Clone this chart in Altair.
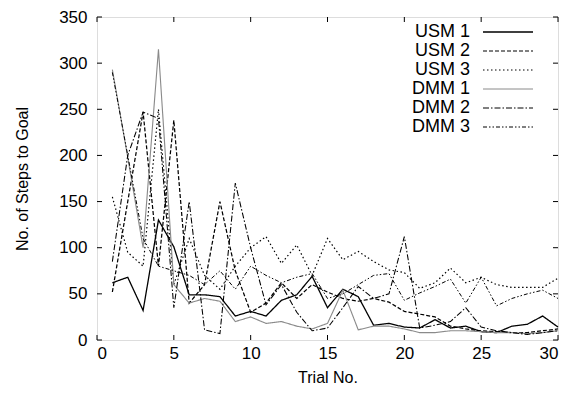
import altair as alt
import pandas as pd

trials = list(range(1, 31))
series_names = ["USM 1", "USM 2", "USM 3", "DMM 1", "DMM 2", "DMM 3"]

usm1 = [62, 68, 32, 130, 101, 49, 49, 47, 26, 31, 26, 43, 49, 69, 35, 55, 47, 16, 18, 14, 13, 22, 13, 15, 9, 8, 15, 17, 26, 14]
usm2 = [52, 150, 247, 80, 238, 40, 60, 150, 75, 30, 40, 62, 45, 60, 52, 45, 42, 45, 41, 31, 28, 25, 15, 12, 10, 9, 8, 8, 10, 12]
usm3 = [155, 95, 80, 250, 60, 110, 70, 55, 80, 100, 112, 83, 103, 70, 110, 87, 96, 85, 76, 73, 56, 62, 78, 62, 68, 60, 57, 57, 57, 67]
dmm1 = [293, 198, 100, 315, 60, 40, 45, 42, 20, 25, 18, 20, 15, 12, 18, 54, 11, 15, 15, 12, 8, 8, 10, 10, 9, 8, 8, 7, 8, 10]
dmm2 = [85, 200, 247, 240, 35, 150, 11, 7, 170, 100, 38, 60, 30, 10, 13, 35, 58, 45, 50, 112, 13, 16, 20, 35, 14, 10, 8, 6, 8, 10]
dmm3 = [290, 200, 110, 80, 75, 70, 60, 75, 55, 80, 70, 62, 68, 72, 45, 50, 60, 70, 72, 43, 51, 58, 66, 40, 68, 37, 45, 50, 54, 45]

y_ticks = [0, 50, 100, 150, 200, 250, 300, 350]
x_ticks = [0, 5, 10, 15, 20, 25, 30]

colors = ["#000000", "#000000", "#000000", "#8a8a8a", "#000000", "#000000"]
dashes = [[1, 0], [4, 2], [1.5, 2.5], [1, 0], [6, 2, 1.5, 2], [4, 2, 1.5, 2, 1.5, 2]]
widths = [1.3, 1, 1, 1, 1, 1]

all_vals = [usm1, usm2, usm3, dmm1, dmm2, dmm3]
rows = []
for name, vals in zip(series_names, all_vals):
    for t, v in zip(trials, vals):
        rows.append({"trial": t, "value": v, "series": name})
df = pd.DataFrame(rows)

W, H = 461, 323
FONT = "Liberation Sans"

xscale = alt.Scale(domain=[0, 30], nice=False)
yscale = alt.Scale(domain=[0, 350], nice=False)

xaxis = alt.Axis(values=x_ticks, title="Trial No.", tickSize=0, domain=False, grid=False,
                 labelPadding=5, titlePadding=8, labelFontSize=17, titleFontSize=16,
                 titleFontWeight="normal", labelColor="#000", titleColor="#000",
                 labelFont=FONT, titleFont=FONT)
yaxis = alt.Axis(values=y_ticks, title="No. of Steps to Goal", tickSize=0, domain=False, grid=False,
                 labelPadding=10, titlePadding=28, labelFontSize=17, titleFontSize=16,
                 titleFontWeight="normal", labelColor="#000", titleColor="#000",
                 labelFont=FONT, titleFont=FONT)

lines = alt.Chart(df).mark_line().encode(
    x=alt.X("trial:Q", scale=xscale, axis=xaxis),
    y=alt.Y("value:Q", scale=yscale, axis=yaxis),
    color=alt.Color("series:N", scale=alt.Scale(domain=series_names, range=colors), legend=None),
    strokeDash=alt.StrokeDash("series:N", scale=alt.Scale(domain=series_names, range=dashes), legend=None),
    strokeWidth=alt.StrokeWidth("series:N", scale=alt.Scale(domain=series_names, range=widths), legend=None),
)

ydf = pd.DataFrame({"value": y_ticks})
xdf = pd.DataFrame({"trial": x_ticks})
tl = 5
yt_left = alt.Chart(ydf).mark_rule(color="black").encode(
    y=alt.Y("value:Q", scale=yscale, axis=yaxis), x=alt.value(0), x2=alt.value(tl))
yt_right = alt.Chart(ydf).mark_rule(color="black").encode(
    y=alt.Y("value:Q", scale=yscale, axis=yaxis), x=alt.value(W - tl), x2=alt.value(W))
xt_bot = alt.Chart(xdf).mark_rule(color="black").encode(
    x=alt.X("trial:Q", scale=xscale, axis=xaxis), y=alt.value(H), y2=alt.value(H - tl))
xt_top = alt.Chart(xdf).mark_rule(color="black").encode(
    x=alt.X("trial:Q", scale=xscale, axis=xaxis), y=alt.value(0), y2=alt.value(tl))

legend_layers = []
for i, name in enumerate(series_names):
    ypos = 15 + 19 * i
    ldf = pd.DataFrame({"label": [name]})
    legend_layers.append(
        alt.Chart(ldf).mark_text(align="right", baseline="middle", fontSize=18, font=FONT, color="black").encode(
            text="label:N", x=alt.value(373), y=alt.value(ypos)))
    legend_layers.append(
        alt.Chart(ldf).mark_rule(color=colors[i], strokeDash=dashes[i], strokeWidth=widths[i]).encode(
            x=alt.value(386), x2=alt.value(436), y=alt.value(ypos)))

chart = alt.layer(lines, yt_left, yt_right, xt_bot, xt_top, *legend_layers).properties(
    width=W, height=H,
    autosize=alt.AutoSizeParams(type="none"),
    padding={"left": 89, "top": 9, "right": 5, "bottom": 52},
).configure_view(stroke="black", strokeWidth=1).configure(background="white")

chart.save("out.html", embed_options={"renderer": "svg", "actions": False})
